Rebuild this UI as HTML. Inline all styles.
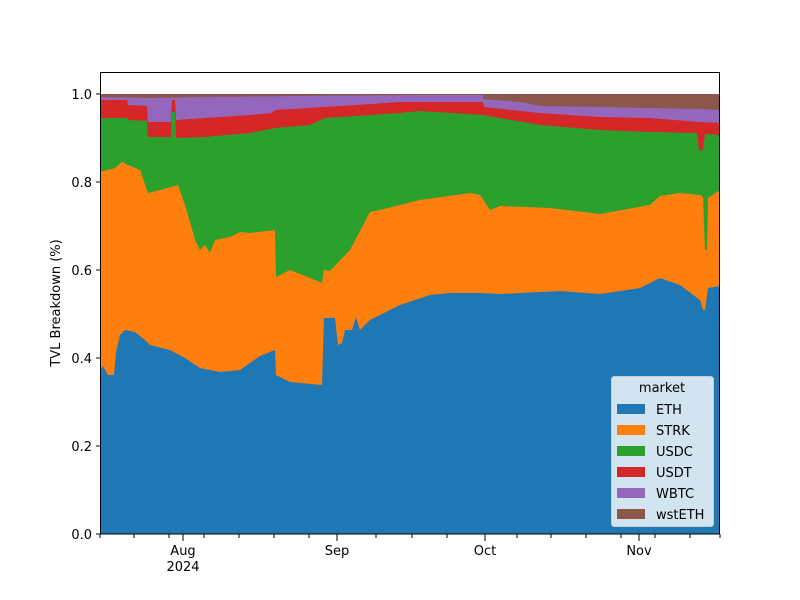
<!DOCTYPE html>
<html><head><meta charset="utf-8"><style>
html,body{margin:0;padding:0;background:#fff;}
svg{display:block;font-family:"DejaVu Sans","Liberation Sans",sans-serif;}
</style></head><body>
<svg width="800" height="600" viewBox="0 0 800 600" xmlns="http://www.w3.org/2000/svg">
<rect width="800" height="600" fill="#fff"/>
<defs><clipPath id="c"><rect x="100" y="72" width="620" height="462"/></clipPath></defs>
<g clip-path="url(#c)">
<rect x="100" y="94" width="620" height="440" fill="#8c564b"/>
<polygon fill="#9467bd" points="100,97 150,98 200,97 300,96 420,95 483,95 483,99 520,102 540,106 600,107 700,109 720,110 720,534 100,534"/>
<polygon fill="#d62728" points="100,100 127,100 128,105 147,106 148,122 171,122 172,100 175,100 176,120 205,118 250,115 272,113 275,110 325,107 400,102 420,102 483,102 484,107 540,113 600,117 650,118 700,122 720,123 720,534 100,534"/>
<polygon fill="#2ca02c" points="100,118 127,118 128,120 147,121 148,137 171,137 172,112 175,112 176,138 205,137 250,133 275,128 310,125 325,118 400,113 420,111 483,115 500,118 540,125 600,130 650,132 697,133 699,150 703,150 705,134 720,135 720,534 100,534"/>
<polygon fill="#ff7f0e" points="100,172 115,168 122,162 128,165 140,170 148,193 160,190 175,186 178,185 185,205 190,222 195,240 200,250 205,245 210,253 215,240 230,237 240,232 250,233 275,230 276,277 290,270 310,278 322,283 324,270 330,271 350,250 370,212 380,210 420,200 470,193 480,195 490,210 500,206 550,208 600,214 650,205 660,196 680,193 700,195 703,197 705,250 707,250 708,198 720,190 720,534 100,534"/>
<polygon fill="#1f77b4" points="100,370 103,366 108,375 114,375 116,352 120,335 125,330 135,332 145,340 150,345 170,350 185,358 200,368 220,372 240,370 260,356 275,350 276,375 290,382 322,385 324,318 335,318 338,345 342,343 345,330 352,330 356,317 360,330 370,320 400,305 430,295 450,293 480,293 500,294 540,292 560,291 600,294 640,288 660,278 680,285 700,300 703,310 705,310 708,288 720,286 720,534 100,534"/>
</g>
<rect x="100.5" y="72.5" width="619" height="461.5" fill="none" stroke="#000" stroke-width="1"/>
<g stroke="#000" stroke-width="1">
<line x1="96" y1="534" x2="100" y2="534"/><line x1="96" y1="446" x2="100" y2="446"/><line x1="96" y1="358" x2="100" y2="358"/><line x1="96" y1="270" x2="100" y2="270"/><line x1="96" y1="182" x2="100" y2="182"/><line x1="96" y1="94" x2="100" y2="94"/>
<line x1="183" y1="534" x2="183" y2="541"/><line x1="337" y1="534" x2="337" y2="541"/><line x1="485" y1="534" x2="485" y2="541"/><line x1="639" y1="534" x2="639" y2="541"/>
<line x1="100" y1="534" x2="100" y2="538"/><line x1="134" y1="534" x2="134" y2="538"/><line x1="169" y1="534" x2="169" y2="538"/><line x1="204" y1="534" x2="204" y2="538"/><line x1="239" y1="534" x2="239" y2="538"/><line x1="274" y1="534" x2="274" y2="538"/><line x1="309" y1="534" x2="309" y2="538"/><line x1="376" y1="534" x2="376" y2="538"/><line x1="412" y1="534" x2="412" y2="538"/><line x1="447" y1="534" x2="447" y2="538"/><line x1="517" y1="534" x2="517" y2="538"/><line x1="551" y1="534" x2="551" y2="538"/><line x1="586" y1="534" x2="586" y2="538"/><line x1="621" y1="534" x2="621" y2="538"/><line x1="655" y1="534" x2="655" y2="538"/><line x1="690" y1="534" x2="690" y2="538"/><line x1="720" y1="534" x2="720" y2="538"/>
</g>
<g font-size="13" fill="#000" text-anchor="end">
<text x="92" y="539">0.0</text><text x="92" y="451">0.2</text><text x="92" y="363">0.4</text><text x="92" y="275">0.6</text><text x="92" y="187">0.8</text><text x="92" y="99">1.0</text>
</g>
<g font-size="13" fill="#000" text-anchor="middle">
<text x="183" y="555">Aug</text><text x="183" y="571">2024</text><text x="337" y="555">Sep</text><text x="485" y="555">Oct</text><text x="639" y="555">Nov</text>
</g>
<text x="60" y="303" font-size="13" text-anchor="middle" transform="rotate(-90 60 303)">TVL Breakdown (%)</text>
<rect x="611.5" y="376.5" width="102" height="150" rx="3" fill="#fff" fill-opacity="0.8" stroke="#ccc"/>
<text x="662" y="392" font-size="13" text-anchor="middle">market</text>
<g font-size="13">
<rect x="617" y="404" width="28" height="10" fill="#1f77b4"/><text x="656" y="414">ETH</text>
<rect x="617" y="425" width="28" height="10" fill="#ff7f0e"/><text x="656" y="435">STRK</text>
<rect x="617" y="446" width="28" height="10" fill="#2ca02c"/><text x="656" y="456">USDC</text>
<rect x="617" y="467" width="28" height="10" fill="#d62728"/><text x="656" y="477">USDT</text>
<rect x="617" y="488" width="28" height="10" fill="#9467bd"/><text x="656" y="498">WBTC</text>
<rect x="617" y="509" width="28" height="10" fill="#8c564b"/><text x="656" y="519">wstETH</text>
</g>
</svg>
</body></html>
